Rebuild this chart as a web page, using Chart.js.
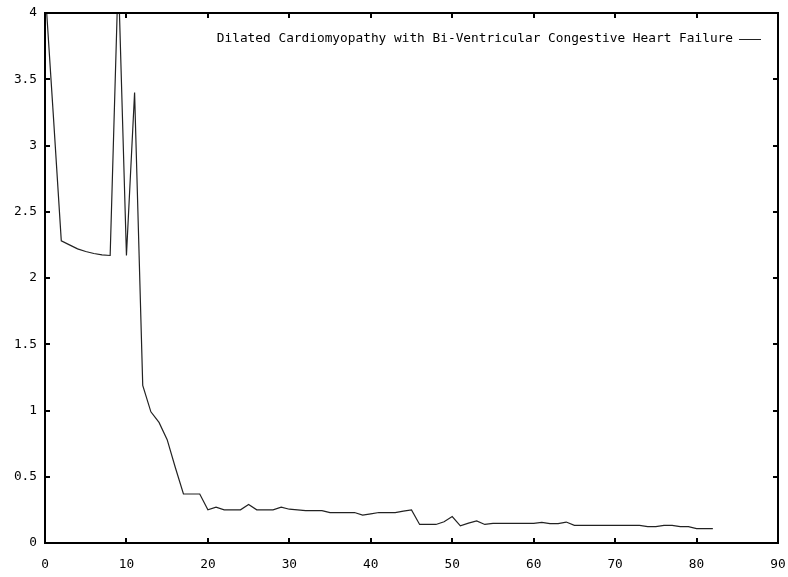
<!DOCTYPE html>
<html>
<head>
<meta charset="utf-8">
<script src="https://cdn.jsdelivr.net/npm/chart.js@4/dist/chart.umd.min.js"></script>
<style>
  body { margin: 0; background: #fff; }
  canvas { display: block; }
</style>
</head>
<body>
<canvas id="chart" width="788" height="577"></canvas>
<script>
// Data
const SERIES_LABEL = 'Dilated Cardiomyopathy with Bi-Ventricular Congestive Heart Failure';

const xValues = [
    0, 1, 2, 3, 4, 5, 6, 7, 8, 9,
    10, 11, 12, 13, 14, 15, 16, 17, 18, 19,
    20, 21, 22, 23, 24, 25, 26, 27, 28, 29,
    30, 31, 32, 33, 34, 35, 36, 37, 38, 39,
    40, 41, 42, 43, 44, 45, 46, 47, 48, 49,
    50, 51, 52, 53, 54, 55, 56, 57, 58, 59,
    60, 61, 62, 63, 64, 65, 66, 67, 68, 69,
    70, 71, 72, 73, 74, 75, 76, 77, 78, 79,
    80, 81, 82
];

const yValues = [
    4.2, 3.25, 2.28, 2.25, 2.22, 2.2, 2.185, 2.175, 2.17, 4.3,
    2.17, 3.4, 1.19, 0.99, 0.91, 0.78, 0.57, 0.37, 0.37, 0.37,
    0.25, 0.27, 0.25, 0.25, 0.25, 0.29, 0.25, 0.25, 0.25, 0.27,
    0.255, 0.25, 0.244, 0.244, 0.244, 0.23, 0.23, 0.23, 0.23, 0.21,
    0.22, 0.23, 0.23, 0.23, 0.24, 0.25, 0.14, 0.14, 0.14, 0.16,
    0.2, 0.13, 0.15, 0.166, 0.14, 0.148, 0.148, 0.148, 0.148, 0.148,
    0.148, 0.156, 0.146, 0.146, 0.158, 0.133, 0.133, 0.133, 0.133, 0.133,
    0.133, 0.133, 0.133, 0.133, 0.123, 0.123, 0.133, 0.133, 0.123, 0.123,
    0.108, 0.108, 0.108
];

const xTicks = [0, 10, 20, 30, 40, 50, 60, 70, 80, 90];
const yTicks = [0, 0.5, 1, 1.5, 2, 2.5, 3, 3.5, 4];

const FONT = { family: '"DejaVu Sans Mono", "Liberation Mono", monospace', size: 12.8 };
const LINE_COLOR = '#222';

// Frame, inward ticks on all four sides, and the gnuplot-style key
const framePlugin = {
    id: 'frame',
    afterDatasetsDraw(chart) {
        const { ctx, chartArea: a, scales } = chart;
        ctx.save();
        ctx.strokeStyle = '#000';
        ctx.lineWidth = 2;
        ctx.strokeRect(a.left, a.top, a.right - a.left, a.bottom - a.top);

        const len = 5;
        ctx.beginPath();
        xTicks.forEach(v => {
            const px = Math.round(scales.x.getPixelForValue(v));
            ctx.moveTo(px, a.bottom); ctx.lineTo(px, a.bottom - len);
            ctx.moveTo(px, a.top); ctx.lineTo(px, a.top + len);
        });
        yTicks.forEach(v => {
            const py = Math.round(scales.y.getPixelForValue(v));
            ctx.moveTo(a.left, py); ctx.lineTo(a.left + len, py);
            ctx.moveTo(a.right, py); ctx.lineTo(a.right - len, py);
        });
        ctx.stroke();

        // key
        const ky = a.top + 26;
        const lineEnd = a.right - 17;
        const lineStart = lineEnd - 22;
        ctx.font = `${FONT.size}px ${FONT.family}`;
        ctx.fillStyle = '#000';
        ctx.textAlign = 'right';
        ctx.textBaseline = 'middle';
        ctx.fillText(chart.data.datasets[0].label, lineStart - 6, ky);
        ctx.strokeStyle = LINE_COLOR;
        ctx.lineWidth = 1;
        ctx.beginPath();
        ctx.moveTo(lineStart, ky + 0.5);
        ctx.lineTo(lineEnd, ky + 0.5);
        ctx.stroke();
        ctx.restore();
    }
};

const points = xValues.map((x, i) => ({ x: x, y: yValues[i] }));

new Chart(document.getElementById('chart'), {
    type: 'line',
    data: {
        datasets: [{
            label: SERIES_LABEL,
            data: points,
            borderColor: LINE_COLOR,
            borderWidth: 1.2,
            pointRadius: 0,
            tension: 0,
            fill: false
        }]
    },
    options: {
        responsive: false,
        animation: false,
        layout: { padding: { top: 13, right: 10, left: 0, bottom: 0 } },
        plugins: {
            legend: { display: false },
            tooltip: { enabled: false }
        },
        scales: {
            x: {
                type: 'linear',
                min: 0,
                max: 90,
                afterBuildTicks: s => { s.ticks = xTicks.map(v => ({ value: v })); },
                afterFit: s => { s.height = 34; s.paddingLeft = 0; s.paddingRight = 0; },
                grid: { display: false, drawTicks: false },
                border: { display: false },
                ticks: { color: '#000', font: FONT, padding: 14, maxRotation: 0, callback: v => String(v) }
            },
            y: {
                type: 'linear',
                min: 0,
                max: 4,
                afterBuildTicks: s => { s.ticks = yTicks.map(v => ({ value: v })); },
                afterFit: s => { s.width = 45; s.paddingTop = 0; s.paddingBottom = 0; },
                grid: { display: false, drawTicks: false },
                border: { display: false },
                ticks: { color: '#000', font: FONT, padding: 8, callback: v => String(v) }
            }
        }
    },
    plugins: [framePlugin]
});
</script>
</body>
</html>
